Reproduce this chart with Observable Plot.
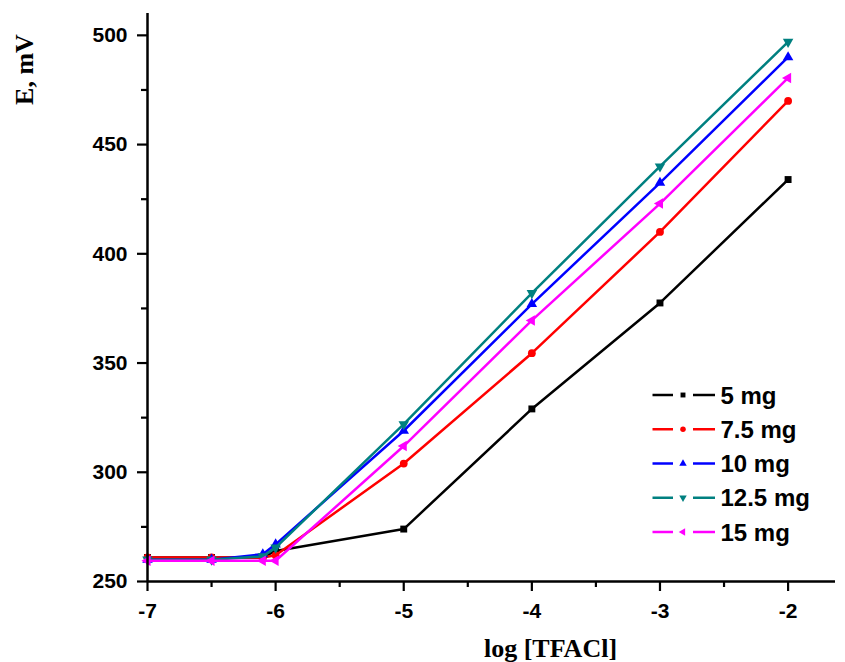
<!DOCTYPE html>
<html>
<head>
<meta charset="utf-8">
<script src="https://cdn.jsdelivr.net/npm/d3@7"></script>
<script src="https://cdn.jsdelivr.net/npm/@observablehq/plot@0.6"></script>
<style>
  html, body { margin: 0; padding: 0; background: #fff; }
  #wrap { position: relative; width: 845px; height: 662px; }
  #legend { position: absolute; left: 648px; top: 380px; }
</style>
</head>
<body>
<div id="wrap"></div>
<script>
// ---- data ----
const xs = [-7, -6.5, -6.1, -6, -5, -4, -3, -2];
const seriesNames = ["5 mg", "7.5 mg", "10 mg", "12.5 mg", "15 mg"];
const seriesColors = ["#000000", "#ff0000", "#0000ff", "#008080", "#ff00ff"];
const s5   = [261, 261, 261, 264, 274, 329, 377.5, 434];
const s7_5 = [261, 261, 261, 262, 304, 354.5, 410, 470];
const s10  = [260, 260, 262.5, 267, 319, 377, 432.5, 490];
const s12_5= [260, 260, 261.5, 265.5, 322, 382, 440, 497];
const s15  = [259.5, 259.5, 259.5, 259.5, 312, 369.5, 423, 480.5];
const seriesValues = [s5, s7_5, s10, s12_5, s15];
const xTicks = [-7, -6, -5, -4, -3, -2];
const xMinorTicks = [-6.5, -5.5, -4.5, -3.5, -2.5];
const yTicks = [250, 300, 350, 400, 450, 500];
const yMinorTicks = [275, 325, 375, 425, 475];
const xTitle = "log [TFACl]";
const yTitle = "E, mV";

// ---- custom symbols ----
const symbolDown = {
  draw(ctx, size) {
    const y = -Math.sqrt(size / (Math.sqrt(3) * 3));
    ctx.moveTo(0, -2 * y);
    ctx.lineTo(-Math.sqrt(3) * y, y);
    ctx.lineTo(Math.sqrt(3) * y, y);
    ctx.closePath();
  }
};
const symbolLeft = {
  draw(ctx, size) {
    const y = -Math.sqrt(size / (Math.sqrt(3) * 3));
    ctx.moveTo(2 * y, 0);
    ctx.lineTo(-y, -Math.sqrt(3) * y);
    ctx.lineTo(-y, Math.sqrt(3) * y);
    ctx.closePath();
  }
};
const seriesSymbols = [d3.symbolSquare, d3.symbolCircle, d3.symbolTriangle, symbolDown, symbolLeft];

const data = seriesNames.flatMap((name, i) =>
  seriesValues[i].map((v, j) => ({series: name, x: xs[j], y: v})));

const tickFont = {fontSize: 21, fontWeight: "bold", fontFamily: "'Liberation Sans', Arial, sans-serif"};
const titleFont = {fontSize: 26, fontWeight: "bold", fontFamily: "'Liberation Serif', 'Times New Roman', serif"};

const seriesMarks = seriesNames.flatMap((name, i) => {
  const d = data.filter(r => r.series === name);
  return [
    Plot.line(d, {x: "x", y: "y", stroke: seriesColors[i], strokeWidth: 2.5}),
    Plot.dot(d, {x: "x", y: "y", fill: seriesColors[i], stroke: "none", r: 3.9, symbol: seriesSymbols[i]})
  ];
});

const chart = Plot.plot({
  width: 845,
  height: 662,
  marginLeft: 147,
  marginRight: 10,
  marginTop: 13,
  marginBottom: 81,
  style: {background: "#fff", color: "#000"},
  x: {domain: [-7, -1.63]},
  y: {domain: [250, 510]},
  marks: [
    ...seriesMarks,
    Plot.axisX({ticks: xTicks, tickSize: 10, tickPadding: 12, tickFormat: d => String(d), strokeWidth: 2.2, label: null, ...tickFont}),
    Plot.axisX({ticks: xMinorTicks, tickSize: 6, tickFormat: () => "", strokeWidth: 2.2, label: null}),
    Plot.axisY({ticks: yTicks, tickSize: 10, tickPadding: 10, tickFormat: d => String(d), strokeWidth: 2.2, label: null, ...tickFont}),
    Plot.axisY({ticks: yMinorTicks, tickSize: 6, tickFormat: () => "", strokeWidth: 2.2, label: null}),
    Plot.ruleY([250], {strokeWidth: 2.5}),
    Plot.ruleX([-7], {strokeWidth: 2.5}),
    Plot.text([yTitle], {text: d => d, frameAnchor: "top-left", dx: -123, dy: 56, rotate: -90, textAnchor: "middle", lineAnchor: "middle", ...titleFont}),
    Plot.text([xTitle], {text: d => d, frameAnchor: "bottom-left", dx: 403, dy: 67, textAnchor: "middle", lineAnchor: "middle", ...titleFont})
  ]
});

const wrap = document.getElementById("wrap");
wrap.appendChild(chart);

// ---- legend ----
const lg = d3.select(wrap).append("svg")
  .attr("id", "legend")
  .attr("width", 197)
  .attr("height", 175);
seriesNames.forEach((name, i) => {
  const cy = 15 + i * 34.25;
  const g = lg.append("g").attr("transform", `translate(0,${cy})`);
  g.append("line").attr("x1", 4.5).attr("x2", 25).attr("y1", 0).attr("y2", 0)
    .attr("stroke", seriesColors[i]).attr("stroke-width", 2.5);
  g.append("line").attr("x1", 45).attr("x2", 67).attr("y1", 0).attr("y2", 0)
    .attr("stroke", seriesColors[i]).attr("stroke-width", 2.5);
  g.append("path").attr("transform", "translate(35,0)")
    .attr("d", d3.symbol().type(seriesSymbols[i]).size(24)())
    .attr("fill", seriesColors[i]);
  g.append("text").attr("x", 72.5).attr("y", 0)
    .attr("dominant-baseline", "central")
    .attr("font-family", "'Liberation Sans', Arial, sans-serif")
    .attr("font-weight", "bold")
    .attr("font-size", 24)
    .attr("fill", "#000")
    .text(name);
});
</script>
</body>
</html>
